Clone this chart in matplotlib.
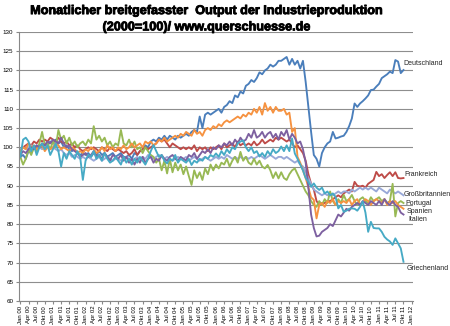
import numpy as np
import matplotlib.pyplot as plt
import matplotlib.patheffects as pe

plt.rcParams['font.family'] = ['Liberation Sans', 'DejaVu Sans']

# Monatswerte Jan 2000 - Okt 2011 (2000=100)
deutschland = [
    97.5, 98, 97, 99, 98.5, 100, 99.5, 100.5, 100, 101, 100.5, 101.5,
    101, 102, 101, 101.5, 100, 100.5, 99.5, 99, 99.5, 98.5, 98, 98.5,
    98, 98.5, 97.5, 98.5, 98, 99, 98, 98.5, 97.5, 98, 98.5, 97.5,
    98, 98.5, 97.5, 97.5, 98, 97, 98.5, 98, 99, 99.5, 100.5, 100,
    101.5, 102, 101.5, 102.5, 102, 103, 102, 103, 102.5, 102, 103, 102.5,
    103, 103.5, 103, 104, 104.5, 104, 108, 105, 108.5, 109, 108.5, 109,
    109.5, 110, 109, 110.5, 111, 112, 111.5, 113.5, 113, 114.5, 114, 116,
    116.5, 117.5, 117, 118, 119.5, 119, 120, 120.5, 121.5, 121, 121.5, 122.5,
    122.5, 123, 123.5, 121.5, 123, 121.5, 122.5, 120.5, 122.5, 117, 110.5, 104,
    98, 97, 95, 98.5, 100, 101, 101.5, 104, 102.3, 102.5, 102.8, 103,
    104, 105.5, 107.5, 111.4, 110.5, 111.4, 112, 112.7, 113.5, 114.9, 115, 115.8,
    116.5, 118, 118.5, 119, 119.7, 119.3, 122.7, 122.3, 119.3, 120.1,
]
frankreich = [
    99, 100, 100.5, 101, 100.5, 101.5, 101, 102, 101.5, 102, 101.5, 102.5,
    102, 101.5, 102.5, 101.5, 101, 101.5, 100.5, 101, 100, 100.5, 99.5, 99,
    99.5, 100, 99.5, 100, 99.5, 99, 100, 99.5, 99, 100, 99.5, 99,
    99.5, 99, 98.5, 99, 98, 98.5, 99.5, 98, 99, 99.5, 100, 99.5,
    100, 100.5, 101, 102, 101.5, 102, 101, 100, 101, 100.5, 100, 99.5,
    100, 99.5, 100, 99.5, 100.5, 99, 100, 99.5, 100, 99, 100, 99.5,
    100, 100.5, 99.5, 101, 100, 100.5, 101, 100, 101.5, 100.5, 101, 100.5,
    101, 100.5, 101.5, 100.5, 101, 102, 101, 101.5, 102, 101.5, 102.5, 102,
    102.5, 102, 101.5, 102, 101, 100, 100.5, 99.5, 98.5, 96.5, 93, 90.5,
    89, 86, 85, 85.5, 85.5, 86, 86, 86.5, 87, 87.5, 87, 88,
    88.5, 89, 88.5, 91, 90, 89.8, 90, 89.5, 90.5, 91, 91.5, 93.6,
    92.5, 93, 92, 92.8, 93.5, 92.5, 93.5, 92, 91.9, 92,
]
grossbritannien = [
    99.5, 100, 99.5, 100, 100.5, 100, 100.5, 100, 99.5, 100, 100.5, 99.5,
    100, 99.5, 99, 99.5, 98.5, 98, 98.5, 97.5, 98, 97.5, 97, 97.5,
    97, 97.5, 97, 96.5, 97, 97.5, 96.5, 97, 97.5, 97, 96.5, 97,
    97, 96.5, 97, 97.5, 97, 96.5, 97, 97.5, 97, 97.5, 97, 98,
    97.5, 97, 97.5, 98, 97.5, 97, 97.5, 97, 96.5, 97, 97.5, 97,
    97, 97.5, 96.5, 97, 97.5, 97, 96.5, 97, 97.5, 97, 96.5, 97,
    97.5, 97, 97.5, 97, 98, 97.5, 97, 97.5, 97, 97.5, 97, 97.5,
    97, 97.5, 97, 97.5, 98, 97.5, 97, 97.5, 98, 97.5, 97, 97.5,
    97.5, 97, 97.5, 97, 96.5, 96, 96.5, 95.5, 95, 93.5, 92, 90.5,
    89, 88.5, 88, 87.5, 88, 87.5, 88, 87.5, 88, 88.5, 88, 88.5,
    88.5, 88, 89, 88.5, 89, 89.5, 89, 89.5, 89, 89.5, 89, 88.5,
    89.5, 89, 88.5, 88, 89, 88.5, 88, 88.5, 88, 87.5,
]
portugal = [
    97.5, 95.5, 97, 99.5, 98, 100, 99, 101, 104, 100.5, 101, 99.5,
    101.5, 100, 104.5, 102, 103, 101, 102.5, 100.5, 101.5, 100, 101, 101.5,
    100.5, 102, 101, 105.5, 102, 103, 101.5, 102.5, 100.5, 101.5, 100, 101,
    100.5, 104.5, 101, 100.5, 102, 100, 101.5, 99.5, 100, 98.5, 100, 99,
    98, 97.5, 96, 97, 94, 96.5, 93.2, 97, 93.5, 96, 94, 95.5,
    93, 95, 92.5, 90.2, 94, 92, 93.5, 91.5, 94.5, 93, 95.5, 94,
    95.5, 94.5, 96, 95.5, 97, 95, 96.5, 97.5, 96, 98.8, 96.5, 97.5,
    96, 95.5, 97, 95.5, 96.5, 95, 94.5, 95.4, 94, 92, 93.5, 91.9,
    93.5, 92, 91.5, 93, 94, 94.5, 93, 91.5, 90, 88.5, 87.5, 86,
    85, 84.5, 86, 85, 86.5, 85.5, 88.5, 86, 85, 86.5, 85.5, 87.6,
    86, 86.5, 87.6, 86, 85, 86.5, 87, 86, 85.5, 87, 86, 86.5,
    87, 86, 86.5, 85.5, 86, 90.5, 82, 85.5, 86, 85.5,
]
spanien = [
    99, 100, 99.5, 101, 100, 100.5, 99.5, 100, 100.5, 99, 100, 99.5,
    100, 101, 100.5, 99.5, 100, 99.5, 99, 100, 99.5, 98.5, 99, 98.5,
    99.5, 99, 100, 99.5, 98.5, 99, 100, 99, 100.5, 99.5, 100, 99,
    100, 99.5, 100.5, 99.5, 100, 101, 100, 100.5, 101, 100, 101.5, 101,
    101.5, 100.5, 101, 102, 101.5, 102.5, 101.5, 102, 102.5, 103, 102.5, 103.5,
    103, 104, 103.5, 103, 104.5, 103.5, 104, 103, 104.5, 105, 104.5, 105.5,
    105, 106, 105.5, 106.5, 107, 106.5, 107, 107.5, 108, 107.5, 108.5, 108,
    109, 108.5, 110, 109, 110.5, 108.5, 111.5, 109.5, 110.5, 109, 110.5, 109.5,
    109.5, 110, 108.5, 109, 104, 105, 97.5, 96, 94, 92, 89.5, 87,
    86.3, 81.5, 85, 85.5, 84.5, 86, 85.5, 86.5, 85, 86, 85.5, 86,
    85.5, 86.5, 85, 86, 86.5, 85, 85.5, 86.5, 86, 85, 86, 86.5,
    86, 85.5, 86.5, 85, 86, 85.5, 86, 85, 84.5, 84,
]
italien = [
    98, 99, 98.5, 99.5, 100, 99.5, 100.5, 100, 101, 100.5, 101.5, 101,
    102, 101.5, 101, 102.5, 101, 100, 100.5, 99.5, 99, 98.5, 97.5, 98,
    98.5, 97.5, 98, 99, 97.5, 98, 97, 98.5, 97.5, 96.5, 98, 97.5,
    97, 98, 96.5, 97.5, 96, 97, 95.5, 97, 96, 97.5, 96, 97,
    97.5, 96, 97, 96.5, 98, 97, 96.5, 97.5, 98, 97, 96.5, 97.5,
    97, 96.5, 98, 97.5, 98.5, 97, 98, 99, 98.5, 99.5, 98.5, 100,
    99.5, 100.5, 100, 101, 100.5, 101.5, 100.5, 102, 101, 102.5, 101.5, 102,
    103.5, 102.5, 104.5, 102.5, 103, 104, 102.5, 103.5, 104, 102.5, 103.5, 102,
    104, 103, 104.5, 102, 103.5, 102.5, 101, 101.5, 99.5, 96, 89.5, 82.5,
    79, 76.8, 77, 78, 78.5, 79, 80, 79.5, 81, 82.5, 82, 83,
    84, 83.5, 84.5, 85, 85.5, 85, 86, 85.5, 85, 86, 85.5, 85,
    86, 85, 86.5, 85.5, 85, 86, 85, 84.5, 83, 82.5,
]
griechenland = [
    97.5, 102, 102.5, 101.5, 99, 100.5, 98, 100, 101, 99.5, 100.5, 98,
    99.5, 101, 99, 95, 98.5, 97, 99, 98, 97, 99, 97.5, 91.5,
    96.5, 98, 97.5, 99, 97, 98, 96.5, 98.5, 97, 96, 96.5, 97.5,
    96.5, 95.5, 97.5, 96, 97, 95.5, 97, 96, 97.5, 96.5, 95.5, 97,
    99, 100.6, 99, 97.5, 98, 96.5, 95.8, 97, 96.5, 98, 96, 97,
    96.5, 96, 97, 95.4, 96.5, 96, 97, 96.5, 97.5, 97, 98, 97.5,
    98.4, 97.5, 99, 98, 99.5, 98.5, 100, 99.5, 101, 101.5, 101.8, 100,
    99, 100, 98.5, 99, 97.6, 98.5, 97.5, 99, 98, 99.5, 98.5, 99,
    100.2, 99, 100.5, 99, 102.3, 98.4, 97, 95.5, 94, 92, 91, 89.7,
    90.6, 89.5, 88.9, 89.5, 88, 88.5, 87.5, 88, 87.1, 84.1, 85, 83.2,
    83.5, 84, 84.1, 84, 83.5, 84.5, 85.9, 83, 78, 80.6, 79, 78.9,
    78.9, 78, 76.7, 76, 75.5, 74.6, 76.3, 75, 73.7, 70.2,
]

series = [
    ('Deutschland', deutschland, '#4a7ebb', (140.8, 121.7)),
    ('Frankreich', frankreich, '#be4b48', (141.2, 92.8)),
    ('Großbritannien', grossbritannien, '#98a8d8', (141.2, 87.6)),
    ('Portugal', portugal, '#98b954', (141.7, 85.4)),
    ('Spanien', spanien, '#f69240', (142.2, 83.2)),
    ('Italien', italien, '#7d60a0', (142.8, 81.3)),
    ('Griechenland', griechenland, '#46aac5', (142.0, 68.5)),
]

monate = ['Jan', 'Apr', 'Jul', 'Okt']
jahre = list(range(0, 13))
tick_labels = []
for j in jahre:
    for mo in monate:
        tick_labels.append(f'{mo} {j:02d}')
tick_labels = tick_labels[:49]

fig = plt.figure(figsize=(4.5, 3.26), dpi=100)
ax = fig.add_axes([19 / 450, 1 - 301 / 326, 394 / 450, 269 / 326])

for name, vals, col, pos in series:
    ax.plot(np.arange(len(vals)), vals, color=col, lw=1.35, solid_joinstyle='round')
    ax.text(pos[0], pos[1], name, fontsize=5, color='#222222',
            ha='left', va='center', clip_on=False)

ax.set_xlim(-0.5, 144.5)
ax.set_ylim(60, 130)
ax.set_yticks(np.arange(60, 131, 5))
ax.set_xticks(np.arange(0, 145, 3))
ax.set_xticklabels(tick_labels, rotation=90, fontsize=4.3)
ax.tick_params(axis='y', labelsize=4.5, length=2, pad=2, color='#888888')
ax.tick_params(axis='x', length=2, pad=1.5, color='#888888')
ax.grid(axis='y', color='#8e8e8e', lw=0.8)
ax.set_axisbelow(True)
for s in ['top', 'right']:
    ax.spines[s].set_visible(False)
for s in ['left', 'bottom']:
    ax.spines[s].set_color('#888888')
    ax.spines[s].set_linewidth(0.8)

# fetter Titel, leicht nachgezogen
heavy = [pe.withStroke(linewidth=0.6, foreground='black')]
fig.text(0.459, 0.966, 'Monatlicher breitgefasster  Output der Industrieproduktion',
         ha='center', va='center', fontsize=9.1, fontweight='bold', path_effects=heavy)
fig.text(0.459, 0.916, '(2000=100)/ www.querschuesse.de',
         ha='center', va='center', fontsize=9.1, fontweight='bold', path_effects=heavy)

fig.savefig('out.png', dpi=100)
